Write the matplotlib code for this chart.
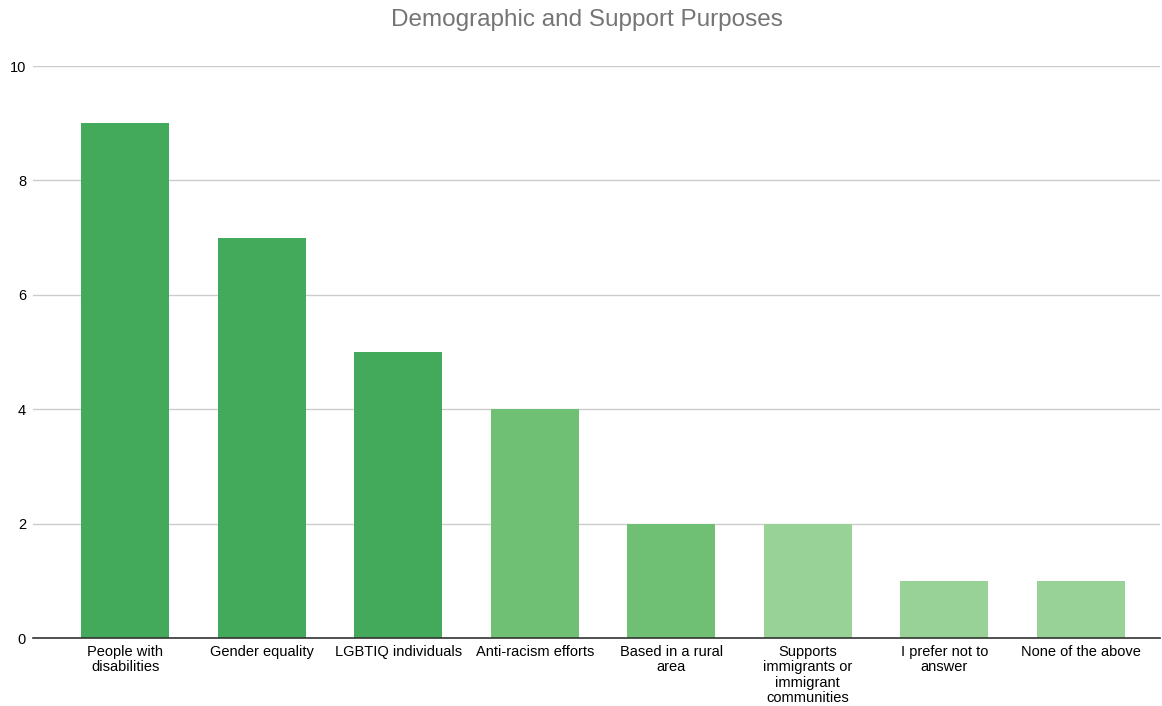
import matplotlib
import matplotlib.pyplot as plt

matplotlib.use("agg")

categories = [
    "People with\ndisabilities",
    "Gender equality",
    "LGBTIQ individuals",
    "Anti-racism efforts",
    "Based in a rural\narea",
    "Supports\nimmigrants or\nimmigrant\ncommunities",
    "I prefer not to\nanswer",
    "None of the above",
]
counts = [9, 7, 5, 4, 2, 2, 1, 1]
bar_colors = ["#43a95b", "#43a95b", "#43a95b", "#6fbf75", "#6fbf75", "#98d297", "#98d297", "#98d297"]
y_ticks = [0, 2, 4, 6, 8, 10]

plt.rcParams["font.family"] = ["Liberation Sans", "DejaVu Sans"]

fig = plt.figure(figsize=(11.62, 7.06), dpi=100)
ax = fig.add_axes([0.0284, 0.0963, 0.970, 0.8102])

x = range(len(categories))
ax.bar(x, counts, width=0.645, color=bar_colors, zorder=2)

ax.set_xlim(-0.675, 7.58)
ax.set_ylim(0, 10)
ax.set_yticks(y_ticks)
ax.set_yticklabels([str(t) for t in y_ticks], fontsize=10.5)
ax.set_xticks(list(x))
ax.set_xticklabels(categories, fontsize=10.5, linespacing=1.12, va="top")
ax.tick_params(axis="x", length=0, pad=5)
ax.tick_params(axis="y", length=0, pad=5)

# light horizontal gridlines behind the bars, dark baseline on top
ax.grid(axis="y", color="#cccccc", linewidth=1, zorder=1)
ax.set_axisbelow(True)
for side in ["top", "right", "left"]:
    ax.spines[side].set_visible(False)
ax.spines["bottom"].set_color("#333333")
ax.spines["bottom"].set_linewidth(1.2)
ax.spines["bottom"].set_zorder(3)

fig.text(0.505, 0.971, "Demographic and Support Purposes", ha="center", va="center",
         fontsize=17.5, color="#757575")

fig.savefig("out.png", dpi=100, facecolor="white")
